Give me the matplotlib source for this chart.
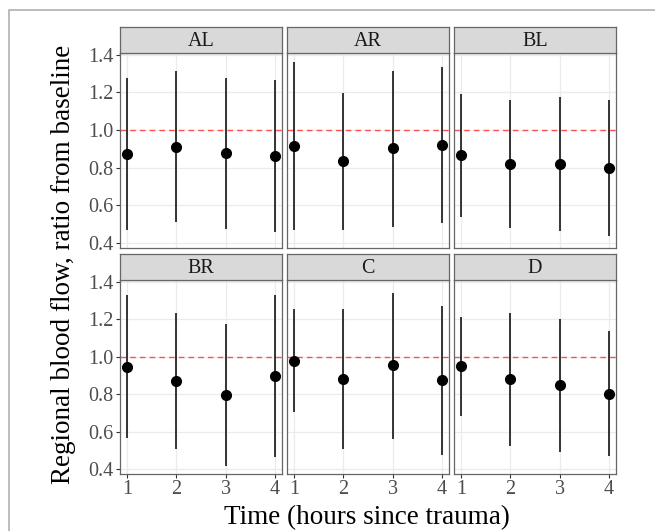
import numpy as np
import matplotlib.pyplot as plt
from matplotlib.patches import Rectangle

plt.rcParams['font.family'] = ['Liberation Serif', 'DejaVu Serif']

regions = ["AL", "AR", "BL", "BR", "C", "D"]
hours = [1, 2, 3, 4]

# ratio from baseline, lower and upper limits, per region and hour
ratio = {
    "AL": [0.871, 0.912, 0.876, 0.862],
    "AR": [0.915, 0.834, 0.903, 0.922],
    "BL": [0.867, 0.821, 0.821, 0.798],
    "BR": [0.945, 0.871, 0.794, 0.896],
    "C":  [0.979, 0.883, 0.953, 0.874],
    "D":  [0.949, 0.880, 0.847, 0.803],
}
lower = {
    "AL": [0.468, 0.510, 0.475, 0.459],
    "AR": [0.468, 0.468, 0.487, 0.507],
    "BL": [0.539, 0.480, 0.464, 0.436],
    "BR": [0.564, 0.507, 0.418, 0.462],
    "C":  [0.703, 0.507, 0.560, 0.475],
    "D":  [0.682, 0.525, 0.493, 0.468],
}
upper = {
    "AL": [1.276, 1.315, 1.276, 1.265],
    "AR": [1.361, 1.199, 1.315, 1.334],
    "BL": [1.194, 1.160, 1.176, 1.160],
    "BR": [1.329, 1.236, 1.175, 1.330],
    "C":  [1.256, 1.256, 1.341, 1.270],
    "D":  [1.213, 1.236, 1.204, 1.136],
}
yticks = [0.4, 0.6, 0.8, 1.0, 1.2, 1.4]

W, H = 655, 531
fig = plt.figure(figsize=(W / 100, H / 100), dpi=100)

# light outer frame running off the right and bottom edges
fig.patches.append(Rectangle((9 / W, -0.1), 1.2, 1 - 10 / H + 0.1, transform=fig.transFigure,
                             fill=False, edgecolor='#b0b0b0', linewidth=1.2))

col_x = [120, 287, 454]
col_w = 162
rows = [(27, 53, 248), (254, 280, 474)]

for i, reg in enumerate(regions):
    r, c = divmod(i, 3)
    s_top, s_bot, p_bot = rows[r]
    x0 = col_x[c]
    ax = fig.add_axes([x0 / W, 1 - p_bot / H, col_w / W, (p_bot - s_bot) / H])
    ax.grid(True, color='#ebebeb', linewidth=0.9)
    ax.set_axisbelow(True)
    ax.axhline(1.0, color='#ff5050', linestyle=(0, (4, 3)), linewidth=1.0, zorder=2)
    ax.vlines(hours, lower[reg], upper[reg], color='black', linewidth=1.1, zorder=3)
    ax.plot(hours, ratio[reg], 'o', color='black', markersize=7, zorder=4)
    ax.set_xlim(0.85, 4.15)
    ax.set_ylim(0.373, 1.41)
    ax.set_xticks(hours)
    ax.set_yticks(yticks)
    ax.tick_params(length=3, color='#333333', labelsize=14.5, labelcolor='#4d4d4d', pad=1.5)
    if c == 0:
        ax.set_yticklabels([f"{v:.1f}" for v in yticks])
    else:
        ax.tick_params(axis='y', length=0, labelleft=False)
    if r == 1:
        ax.set_xticklabels([str(h) for h in hours])
    else:
        ax.tick_params(axis='x', length=0, labelbottom=False)
    for sp in ax.spines.values():
        sp.set_color('#666666')
        sp.set_linewidth(0.9)

    sx = fig.add_axes([x0 / W, 1 - s_bot / H, col_w / W, (s_bot - s_top) / H])
    sx.set_facecolor('#d9d9d9')
    sx.set_xticks([])
    sx.set_yticks([])
    for sp in sx.spines.values():
        sp.set_color('#666666')
        sp.set_linewidth(0.9)
    sx.text(0.5, 0.45, reg, ha='center', va='center', fontsize=14.5, color='#1a1a1a',
            transform=sx.transAxes)

fig.text(367 / W, 1 - 518 / H, "Time (hours since trauma)", ha='center', va='center',
         fontsize=19.5, color='black')
fig.text(64 / W, 1 - 264 / H, "Regional blood flow, ratio from baseline", ha='center',
         va='center', rotation=90, fontsize=19.5, color='black')

fig.savefig("out.png", dpi=100)
